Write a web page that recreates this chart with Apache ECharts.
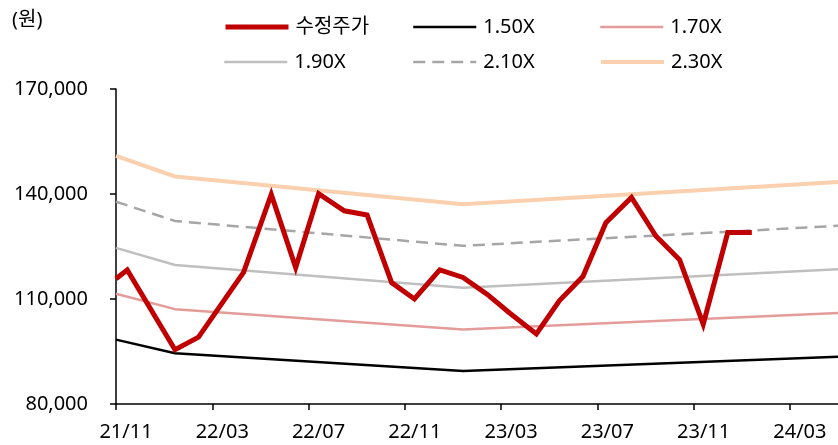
<!DOCTYPE html>
<html>
<head>
<meta charset="utf-8">
<script src="https://cdn.jsdelivr.net/npm/echarts@6/dist/echarts.min.js"></script>
<style>
  html, body { margin: 0; padding: 0; background: #fff; }
  #chart { width: 838px; height: 445px; }
</style>
</head>
<body>
<div id="chart"></div>
<script>
// 수정주가
var priceDates = ['2021-11-01', '2021-11-15', '2022-01-15', '2022-02-13', '2022-03-13', '2022-04-10',
  '2022-05-15', '2022-06-15', '2022-07-14', '2022-08-16', '2022-09-14', '2022-10-15', '2022-11-13',
  '2022-12-15', '2023-01-14', '2023-02-13', '2023-03-12', '2023-04-15', '2023-05-14', '2023-06-13',
  '2023-07-12', '2023-08-14', '2023-09-14', '2023-10-14', '2023-11-13', '2023-12-14', '2024-01-14'];
var priceValues = [115800, 118300, 95500, 99100, 108600, 117600,
  139900, 119000, 140100, 135200, 134000, 114700, 110000,
  118300, 116150, 111300, 106000, 100000, 109500, 116400,
  131800, 139000, 128000, 121200, 102800, 129000, 129000];

// PBR band
var bandDates = ['2021-11-01', '2022-01-15', '2023-01-14', '2024-05-01'];
var band150 = [98400, 94500, 89400, 93500];
var band170 = [111500, 107100, 101300, 106000];
var band190 = [124600, 119700, 113200, 118500];
var band210 = [137800, 132300, 125200, 130900];
var band230 = [150900, 145000, 137100, 143400];

var seriesNames = ['수정주가', '1.50X', '1.70X', '1.90X', '2.10X', '2.30X'];
var yTicks = [80000, 110000, 140000, 170000];

var FONT = '"Noto Sans", "Noto Sans CJK KR"';

// months since 21/11 (fractional)
function monthPos(s) {
  var p = s.split('-');
  var y = +p[0], m = +p[1], d = +p[2];
  var dim = new Date(y, m, 0).getDate();
  return (y - 2021) * 12 + (m - 11) + (d - 1) / dim;
}
function pairs(dates, vals) {
  return dates.map(function (d, i) { return [monthPos(d), vals[i]]; });
}
function monthLabel(v) {
  if (v % 4 !== 0) return '';
  var t = 11 + v;
  var y = 21 + Math.floor((t - 1) / 12);
  var m = ((t - 1) % 12) + 1;
  return y + '/' + (m < 10 ? '0' : '') + m;
}

var chart = echarts.init(document.getElementById('chart'));

var legendPos = [
  [223, 17], [412, 17], [599, 17],
  [223, 52], [412, 52], [599, 52]
];
var legendWidth = [5, 2.5, 2.5, 2.5, 2.5, 4];
var legends = seriesNames.map(function (n, i) {
  return {
    data: [n],
    left: legendPos[i][0],
    top: legendPos[i][1],
    padding: 0,
    itemWidth: 63,
    itemHeight: 14,
    itemGap: 0,
    selectedMode: false,
    itemStyle: { opacity: 0 },
    lineStyle: { width: legendWidth[i] },
    textStyle: { fontFamily: FONT, fontSize: 20, color: '#000', padding: [0, 0, 0, 2] }
  };
});

function band(name, data, color, width, type) {
  return {
    name: name,
    type: 'line',
    data: pairs(bandDates, data),
    symbol: 'none',
    lineStyle: { color: color, width: width, type: type || 'solid' },
    itemStyle: { color: color },
    z: 2
  };
}

chart.setOption({
  animation: false,
  graphic: [{
    type: 'text',
    left: 12,
    top: 10,
    style: { text: '(원)', font: '20px ' + FONT, fill: '#000' }
  }],
  legend: legends,
  grid: { left: 116, right: 0, top: 89, bottom: 41 },
  xAxis: {
    type: 'value',
    min: 0,
    max: 30,
    interval: 4,
    splitLine: { show: false },
    axisLine: { lineStyle: { color: '#000', width: 1.5 } },
    axisTick: { show: true, length: 6, lineStyle: { color: '#000', width: 1.5 } },
    axisLabel: {
      formatter: monthLabel,
      showMaxLabel: false,
      margin: 18,
      fontFamily: FONT,
      fontSize: 20,
      color: '#000',
      padding: [0, 0, 0, 20]
    }
  },
  yAxis: {
    type: 'value',
    min: yTicks[0],
    max: yTicks[yTicks.length - 1],
    interval: 30000,
    splitLine: { show: false },
    axisLine: { show: true, lineStyle: { color: '#000', width: 1.5 } },
    axisTick: { show: true, length: 6, lineStyle: { color: '#000', width: 1.5 } },
    axisLabel: {
      margin: 28,
      fontFamily: FONT,
      fontSize: 20,
      color: '#000',
      formatter: function (v) { return v.toLocaleString('en-US'); }
    }
  },
  series: [
    band('1.50X', band150, '#000000', 2.5),
    band('1.70X', band170, '#E39C9A', 2.5),
    band('1.90X', band190, '#BFBFBF', 2.5),
    band('2.10X', band210, '#A6A6A6', 2.5, [12, 7]),
    band('2.30X', band230, '#FBD0AE', 4),
    {
      name: '수정주가',
      type: 'line',
      data: pairs(priceDates, priceValues),
      symbol: 'none',
      lineStyle: { color: '#C00000', width: 5, join: 'miter' },
      itemStyle: { color: '#C00000' },
      z: 5
    }
  ]
});
</script>
</body>
</html>
